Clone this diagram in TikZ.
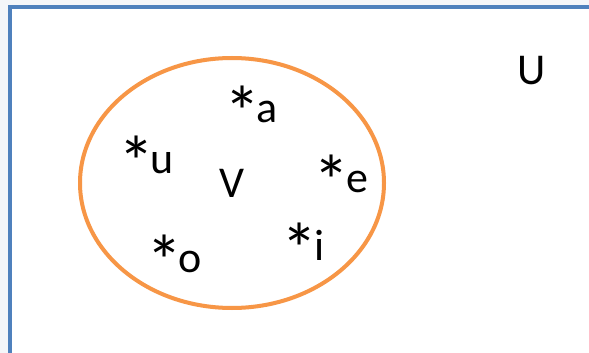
\documentclass[tikz,border=0pt]{standalone}
\usepackage{fontspec}
\setmainfont{Carlito}
\definecolor{frameBlue}{HTML}{4F81BD}
\definecolor{setOrange}{HTML}{F79646}
\definecolor{pageGray}{HTML}{F4F6F9}
\newcommand{\starmark}{\raisebox{-0.34em}{\scalebox{1.65}{*}}\kern-0.08em}

\begin{document}
\begin{tikzpicture}[x=0.5pt, y=-0.5pt,
          elem/.style={anchor=base, inner sep=0pt, font=\fontsize{22}{26}\selectfont},
          universe/.style={draw=frameBlue, line width=2pt, fill=white},
          subset/.style={draw=setOrange, line width=2pt}]
        \useasboundingbox (0,0) rectangle (589,353);
        \clip (0,0) rectangle (589,353);
        \fill[pageGray] (0,0) rectangle (589,353);
        \draw[universe] (10,7.5) rectangle (620,380);
        \draw[subset] (232,183) ellipse [x radius=152, y radius=125];
        \node[elem] (lblU) at (532,85) {U};
        \node[elem] (lblV) at (232,198) {V};
        \node[elem] (va) at (251,123) {\starmark a};
        \node[elem] (ve) at (341,192) {\starmark e};
        \node[elem] (vi) at (303,260) {\starmark i};
        \node[elem] (vo) at (174,272) {\starmark o};
        \node[elem] (vu) at (146,173) {\starmark u};
      \end{tikzpicture}
\end{document}
